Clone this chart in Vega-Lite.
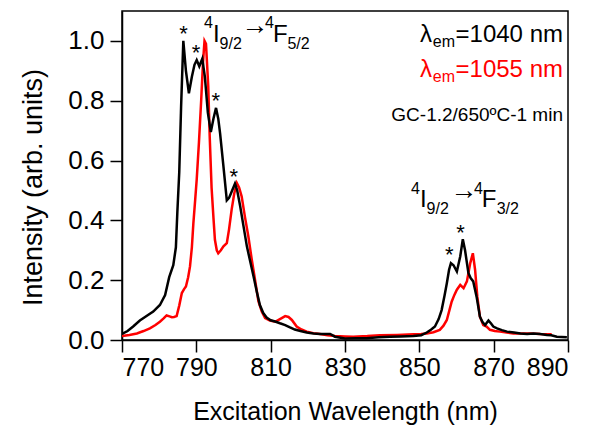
{
  "$schema": "https://vega.github.io/schema/vega-lite/v6.json",
  "autosize": {"type": "none"},
  "padding": {"left": 122, "top": 11, "right": 22, "bottom": 90},
  "width": 446,
  "height": 329,
  "background": "white",
  "config": {
    "view": {"stroke": "black", "strokeWidth": 1.5},
    "font": "Liberation Sans",
    "axis": {
      "grid": false,
      "domainColor": "black",
      "domainWidth": 1.5,
      "tickColor": "black",
      "tickWidth": 1.5,
      "tickSize": 12,
      "labelColor": "black",
      "labelFont": "Liberation Sans",
      "labelFontSize": 25,
      "titleColor": "black",
      "titleFont": "Liberation Sans",
      "titleFontSize": 25,
      "titleFontWeight": "normal"
    }
  },
  "datasets": {
    "black": [
      {"wl": 770.0, "v": 0.02}, {"wl": 771.5, "v": 0.03}, {"wl": 773.0, "v": 0.045}, {"wl": 774.8, "v": 0.065},
      {"wl": 776.6, "v": 0.08}, {"wl": 778.4, "v": 0.095}, {"wl": 780.2, "v": 0.117}, {"wl": 781.6, "v": 0.15},
      {"wl": 782.7, "v": 0.21}, {"wl": 783.8, "v": 0.25}, {"wl": 784.5, "v": 0.31}, {"wl": 784.9, "v": 0.43},
      {"wl": 785.4, "v": 0.56}, {"wl": 785.9, "v": 0.78}, {"wl": 786.5, "v": 1.0}, {"wl": 787.2, "v": 0.9},
      {"wl": 788.0, "v": 0.825}, {"wl": 788.8, "v": 0.88}, {"wl": 789.5, "v": 0.92}, {"wl": 790.1, "v": 0.936},
      {"wl": 790.8, "v": 0.915}, {"wl": 791.6, "v": 0.94}, {"wl": 792.3, "v": 0.88}, {"wl": 793.1, "v": 0.76},
      {"wl": 793.9, "v": 0.695}, {"wl": 794.6, "v": 0.74}, {"wl": 795.3, "v": 0.776}, {"wl": 795.9, "v": 0.74},
      {"wl": 796.4, "v": 0.69}, {"wl": 797.3, "v": 0.58}, {"wl": 798.2, "v": 0.467}, {"wl": 798.8, "v": 0.475},
      {"wl": 799.3, "v": 0.49}, {"wl": 800.4, "v": 0.523}, {"wl": 801.0, "v": 0.5}, {"wl": 801.8, "v": 0.447},
      {"wl": 802.7, "v": 0.38}, {"wl": 803.6, "v": 0.313}, {"wl": 805.4, "v": 0.212}, {"wl": 806.3, "v": 0.16},
      {"wl": 807.1, "v": 0.117}, {"wl": 808.0, "v": 0.09}, {"wl": 808.9, "v": 0.075}, {"wl": 810.0, "v": 0.066},
      {"wl": 811.2, "v": 0.062}, {"wl": 812.5, "v": 0.056}, {"wl": 813.9, "v": 0.05}, {"wl": 815.2, "v": 0.042},
      {"wl": 816.5, "v": 0.035}, {"wl": 818.0, "v": 0.03}, {"wl": 819.7, "v": 0.025}, {"wl": 821.5, "v": 0.022},
      {"wl": 823.3, "v": 0.02}, {"wl": 826.0, "v": 0.02}, {"wl": 827.3, "v": 0.011}, {"wl": 830.0, "v": 0.005},
      {"wl": 833.0, "v": 0.006}, {"wl": 835.8, "v": 0.006}, {"wl": 839.0, "v": 0.009}, {"wl": 842.1, "v": 0.011},
      {"wl": 845.0, "v": 0.012}, {"wl": 848.4, "v": 0.013}, {"wl": 850.5, "v": 0.016}, {"wl": 852.0, "v": 0.025},
      {"wl": 853.2, "v": 0.035}, {"wl": 854.2, "v": 0.045}, {"wl": 855.2, "v": 0.07}, {"wl": 856.0, "v": 0.1},
      {"wl": 856.8, "v": 0.15}, {"wl": 857.4, "v": 0.19}, {"wl": 858.0, "v": 0.235}, {"wl": 858.5, "v": 0.257},
      {"wl": 859.2, "v": 0.25}, {"wl": 860.1, "v": 0.229}, {"wl": 861.0, "v": 0.279}, {"wl": 861.7, "v": 0.337},
      {"wl": 862.3, "v": 0.3}, {"wl": 863.2, "v": 0.224}, {"wl": 863.8, "v": 0.207}, {"wl": 864.5, "v": 0.196},
      {"wl": 865.4, "v": 0.145}, {"wl": 866.3, "v": 0.078}, {"wl": 867.0, "v": 0.06}, {"wl": 867.7, "v": 0.05},
      {"wl": 868.6, "v": 0.065}, {"wl": 869.3, "v": 0.055}, {"wl": 869.9, "v": 0.045}, {"wl": 870.9, "v": 0.039},
      {"wl": 872.2, "v": 0.033}, {"wl": 873.6, "v": 0.028}, {"wl": 875.5, "v": 0.025}, {"wl": 877.2, "v": 0.022},
      {"wl": 879.0, "v": 0.02}, {"wl": 880.7, "v": 0.022}, {"wl": 882.5, "v": 0.02}, {"wl": 884.3, "v": 0.017},
      {"wl": 885.5, "v": 0.016}, {"wl": 887.0, "v": 0.011}, {"wl": 888.3, "v": 0.01}, {"wl": 889.7, "v": 0.009}
    ],
    "red": [
      {"wl": 770.0, "v": 0.013}, {"wl": 772.0, "v": 0.017}, {"wl": 774.0, "v": 0.022}, {"wl": 775.8, "v": 0.03},
      {"wl": 777.5, "v": 0.039}, {"wl": 779.0, "v": 0.05}, {"wl": 780.2, "v": 0.061}, {"wl": 781.2, "v": 0.072},
      {"wl": 782.0, "v": 0.082}, {"wl": 782.8, "v": 0.079}, {"wl": 783.4, "v": 0.076}, {"wl": 784.0, "v": 0.077},
      {"wl": 784.7, "v": 0.08}, {"wl": 785.4, "v": 0.115}, {"wl": 786.1, "v": 0.157}, {"wl": 786.7, "v": 0.17},
      {"wl": 787.2, "v": 0.179}, {"wl": 787.8, "v": 0.21}, {"wl": 788.3, "v": 0.246}, {"wl": 788.8, "v": 0.31},
      {"wl": 789.2, "v": 0.39}, {"wl": 789.7, "v": 0.47}, {"wl": 790.1, "v": 0.536}, {"wl": 790.7, "v": 0.66},
      {"wl": 791.3, "v": 0.8}, {"wl": 791.8, "v": 0.93}, {"wl": 792.2, "v": 1.0}, {"wl": 792.6, "v": 0.99},
      {"wl": 793.2, "v": 0.85}, {"wl": 793.6, "v": 0.68}, {"wl": 794.1, "v": 0.51}, {"wl": 794.6, "v": 0.41},
      {"wl": 795.0, "v": 0.335}, {"wl": 795.5, "v": 0.3}, {"wl": 795.9, "v": 0.29}, {"wl": 796.6, "v": 0.3},
      {"wl": 797.3, "v": 0.313}, {"wl": 798.2, "v": 0.324}, {"wl": 798.8, "v": 0.37}, {"wl": 799.5, "v": 0.436},
      {"wl": 800.2, "v": 0.49}, {"wl": 800.9, "v": 0.525}, {"wl": 801.5, "v": 0.51}, {"wl": 802.2, "v": 0.48},
      {"wl": 803.1, "v": 0.41}, {"wl": 804.0, "v": 0.346}, {"wl": 804.9, "v": 0.27}, {"wl": 805.8, "v": 0.201},
      {"wl": 806.7, "v": 0.13}, {"wl": 807.6, "v": 0.095}, {"wl": 808.5, "v": 0.073}, {"wl": 809.8, "v": 0.065},
      {"wl": 811.2, "v": 0.061}, {"wl": 812.5, "v": 0.07}, {"wl": 813.9, "v": 0.08}, {"wl": 814.8, "v": 0.077},
      {"wl": 815.7, "v": 0.067}, {"wl": 817.0, "v": 0.045}, {"wl": 818.3, "v": 0.035}, {"wl": 819.7, "v": 0.028},
      {"wl": 821.5, "v": 0.023}, {"wl": 823.3, "v": 0.02}, {"wl": 825.3, "v": 0.016}, {"wl": 827.3, "v": 0.013},
      {"wl": 830.0, "v": 0.012}, {"wl": 832.2, "v": 0.011}, {"wl": 836.0, "v": 0.013}, {"wl": 839.4, "v": 0.016},
      {"wl": 844.0, "v": 0.017}, {"wl": 848.4, "v": 0.019}, {"wl": 850.5, "v": 0.02}, {"wl": 852.0, "v": 0.022},
      {"wl": 853.8, "v": 0.026}, {"wl": 855.5, "v": 0.034}, {"wl": 856.5, "v": 0.048}, {"wl": 857.4, "v": 0.067},
      {"wl": 858.1, "v": 0.1}, {"wl": 858.7, "v": 0.128}, {"wl": 859.4, "v": 0.15}, {"wl": 860.1, "v": 0.168},
      {"wl": 861.0, "v": 0.184}, {"wl": 861.9, "v": 0.173}, {"wl": 862.8, "v": 0.196}, {"wl": 863.3, "v": 0.23},
      {"wl": 863.7, "v": 0.257}, {"wl": 864.4, "v": 0.29}, {"wl": 865.0, "v": 0.235}, {"wl": 865.6, "v": 0.145},
      {"wl": 866.3, "v": 0.078}, {"wl": 867.2, "v": 0.05}, {"wl": 868.1, "v": 0.045}, {"wl": 869.0, "v": 0.034},
      {"wl": 870.3, "v": 0.03}, {"wl": 871.7, "v": 0.028}, {"wl": 873.5, "v": 0.025}, {"wl": 875.3, "v": 0.022},
      {"wl": 877.5, "v": 0.022}, {"wl": 879.8, "v": 0.022}, {"wl": 882.5, "v": 0.02}, {"wl": 885.6, "v": 0.019}
    ],
    "stars": [
      {"wl": 786.55, "v": 1.0}, {"wl": 789.9, "v": 0.937}, {"wl": 795.2, "v": 0.776},
      {"wl": 800.05, "v": 0.522}, {"wl": 858.05, "v": 0.261}, {"wl": 861.1, "v": 0.335}
    ],
    "labels": [
      {"t": "4", "kind": "sup", "wl": 792.06, "v": 1.043},
      {"t": "I", "kind": "main", "wl": 794.46, "v": 0.996},
      {"t": "9/2", "kind": "sub", "wl": 796.26, "v": 0.973},
      {"t": "→", "kind": "arrow", "wl": 802.1, "v": 1.024},
      {"t": "4", "kind": "sup", "wl": 808.5, "v": 1.043},
      {"t": "F", "kind": "main", "wl": 810.6, "v": 0.996},
      {"t": "5/2", "kind": "sub", "wl": 814.5, "v": 0.973},
      {"t": "4", "kind": "sup", "wl": 847.76, "v": 0.488},
      {"t": "I", "kind": "main", "wl": 850.15, "v": 0.445},
      {"t": "9/2", "kind": "sub", "wl": 851.96, "v": 0.421},
      {"t": "→", "kind": "arrow", "wl": 858.3, "v": 0.473},
      {"t": "4", "kind": "sup", "wl": 864.7, "v": 0.488},
      {"t": "F", "kind": "main", "wl": 866.8, "v": 0.445},
      {"t": "3/2", "kind": "sub", "wl": 870.8, "v": 0.421}
    ],
    "legend": [
      {"t": "=1040 nm", "kind": "main", "series": "1040", "wl": 888.65, "v": 0.997},
      {"t": "em", "kind": "sub", "series": "1040", "wl": 859.6, "v": 0.98},
      {"t": "λ", "kind": "main", "series": "1040", "wl": 853.4, "v": 0.997},
      {"t": "=1055 nm", "kind": "main", "series": "1055", "wl": 888.65, "v": 0.878},
      {"t": "em", "kind": "sub", "series": "1055", "wl": 859.6, "v": 0.861},
      {"t": "λ", "kind": "main", "series": "1055", "wl": 853.4, "v": 0.878}
    ],
    "note": [
      {"t": "GC-1.2/650ºC-1 min", "wl": 888.65, "v": 0.732}
    ]
  },
  "layer": [
    {
      "data": {"name": "red"},
      "mark": {"type": "line", "color": "#ff0000", "strokeWidth": 2.5, "clip": true},
      "encoding": {
        "x": {
          "field": "wl", "type": "quantitative",
          "scale": {"domain": [770, 890], "nice": false, "zero": false},
          "axis": {"values": [770, 790, 810, 830, 850, 870, 890], "title": "Excitation Wavelength (nm)", "labelPadding": 3, "titlePadding": 19}
        },
        "y": {
          "field": "v", "type": "quantitative",
          "scale": {"domain": [0, 1.1], "nice": false},
          "axis": {"values": [0, 0.2, 0.4, 0.6, 0.8, 1.0], "format": ".1f", "title": "Intensity (arb. units)", "labelFontSize": 26, "labelPadding": 6, "titleFontSize": 27, "titlePadding": 20, "titleY": 176}
        }
      }
    },
    {
      "data": {"name": "black"},
      "mark": {"type": "line", "color": "#000000", "strokeWidth": 2.5, "clip": true},
      "encoding": {
        "x": {"field": "wl", "type": "quantitative"},
        "y": {"field": "v", "type": "quantitative"}
      }
    },
    {
      "data": {"name": "stars"},
      "mark": {"type": "text", "text": "*", "font": "Liberation Sans", "fontSize": 22, "align": "center", "baseline": "alphabetic", "color": "black"},
      "encoding": {
        "x": {"field": "wl", "type": "quantitative"},
        "y": {"field": "v", "type": "quantitative"}
      }
    },
    {
      "data": {"name": "labels"},
      "transform": [{"filter": "datum.kind === 'main'"}],
      "mark": {"type": "text", "font": "Liberation Sans", "fontSize": 24, "align": "left", "baseline": "alphabetic", "color": "black"},
      "encoding": {
        "x": {"field": "wl", "type": "quantitative"},
        "y": {"field": "v", "type": "quantitative"},
        "text": {"field": "t"}
      }
    },
    {
      "data": {"name": "labels"},
      "transform": [{"filter": "datum.kind === 'arrow'"}],
      "mark": {"type": "text", "font": "Liberation Sans", "fontSize": 27, "align": "left", "baseline": "alphabetic", "color": "black"},
      "encoding": {
        "x": {"field": "wl", "type": "quantitative"},
        "y": {"field": "v", "type": "quantitative"},
        "text": {"field": "t"}
      }
    },
    {
      "data": {"name": "labels"},
      "transform": [{"filter": "datum.kind === 'sup' || datum.kind === 'sub'"}],
      "mark": {"type": "text", "font": "Liberation Sans", "fontSize": 16, "align": "left", "baseline": "alphabetic", "color": "black"},
      "encoding": {
        "x": {"field": "wl", "type": "quantitative"},
        "y": {"field": "v", "type": "quantitative"},
        "text": {"field": "t"}
      }
    },
    {
      "data": {"name": "legend"},
      "transform": [{"filter": "datum.kind === 'main'"}],
      "mark": {"type": "text", "font": "Liberation Sans", "fontSize": 24, "align": "right", "baseline": "alphabetic"},
      "encoding": {
        "x": {"field": "wl", "type": "quantitative"},
        "y": {"field": "v", "type": "quantitative"},
        "text": {"field": "t"},
        "color": {"field": "series", "type": "nominal", "scale": {"domain": ["1040", "1055"], "range": ["#000000", "#ff0000"]}, "legend": null}
      }
    },
    {
      "data": {"name": "legend"},
      "transform": [{"filter": "datum.kind === 'sub'"}],
      "mark": {"type": "text", "font": "Liberation Sans", "fontSize": 16, "align": "right", "baseline": "alphabetic"},
      "encoding": {
        "x": {"field": "wl", "type": "quantitative"},
        "y": {"field": "v", "type": "quantitative"},
        "text": {"field": "t"},
        "color": {"field": "series", "type": "nominal", "scale": {"domain": ["1040", "1055"], "range": ["#000000", "#ff0000"]}, "legend": null}
      }
    },
    {
      "data": {"name": "note"},
      "mark": {"type": "text", "font": "Liberation Sans", "fontSize": 19, "align": "right", "baseline": "alphabetic", "color": "black"},
      "encoding": {
        "x": {"field": "wl", "type": "quantitative"},
        "y": {"field": "v", "type": "quantitative"},
        "text": {"field": "t"}
      }
    }
  ]
}
